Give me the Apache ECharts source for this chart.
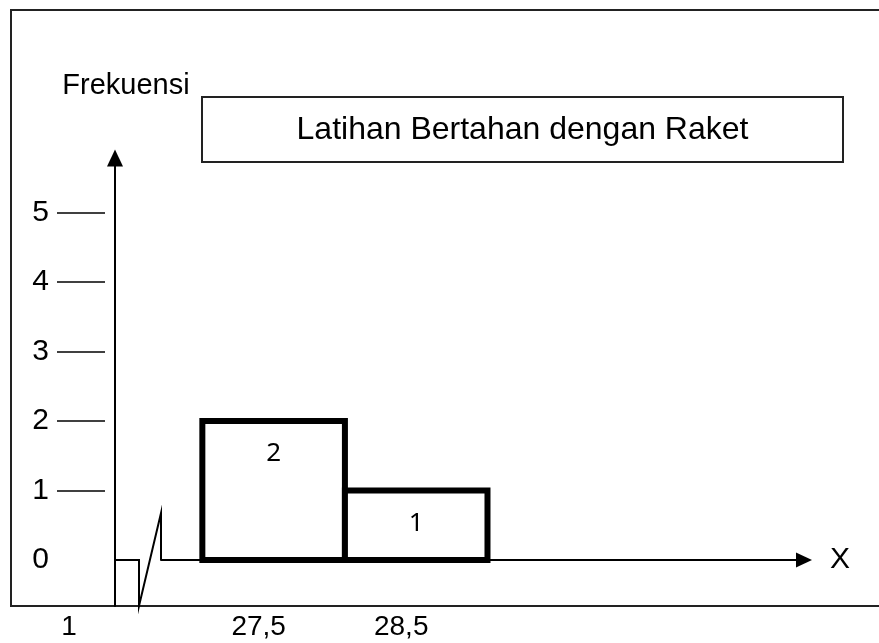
<!DOCTYPE html>
<html><head><meta charset="utf-8">
<script src="https://cdn.jsdelivr.net/npm/echarts@6/dist/echarts.min.js"></script>
<style>html,body{margin:0;padding:0;background:#fff}#c{width:879px;height:643px}</style>
</head><body><div id="c"></div>
<script>
// ---- data ----
const chartTitle = 'Latihan Bertahan dengan Raket';
const yName = 'Frekuensi';
const xName = 'X';
const classMarks = [27.5, 28.5];
const frequencies = [2, 1];
const classWidth = 1;
const xTickValues = [27.5, 28.5];
const xTickLabels = ['27,5', '28,5'];
const yTickValues = [0, 1, 2, 3, 4, 5];
const yTickLabels = ['0', '1', '2', '3', '4', '5'];
const yTickLineValues = [1, 2, 3, 4, 5];
const extraXLabel = '1';

// ---- layout ----
const FONT = '"Liberation Sans", Arial, sans-serif';
const X_MIN = 26.71, X_MAX = 31.22, Y_MIN = -0.662, Y_MAX = 5.784;
const chart = echarts.init(document.getElementById('c'), null, {renderer: 'canvas'});
const barData = classMarks.map((m, i) => [m, frequencies[i]]);

chart.setOption({
  animation: false,
  backgroundColor: '#fff',
  grid: {left: 161, right: 75, top: 158, bottom: 37, containLabel: false, outerBoundsMode: 'none'},
  xAxis: {
    type: 'value', min: X_MIN, max: X_MAX,
    name: xName, nameLocation: 'end', nameGap: 26,
    nameTextStyle: {fontFamily: FONT, fontSize: 30, color: '#000', verticalAlign: 'middle', padding: [0, 0, 12, 0]},
    axisLine: {show: true, onZero: true, onZeroAxisIndex: 0, symbol: ['none', 'triangle'], symbolSize: [15, 16],
      lineStyle: {color: '#000', width: 2}},
    axisTick: {show: false},
    splitLine: {show: false},
    axisLabel: {show: false}
  },
  yAxis: [{
    type: 'value', min: Y_MIN, max: Y_MAX, position: 'left', offset: 46,
    name: yName, nameLocation: 'end', nameGap: 72,
    nameTextStyle: {fontFamily: FONT, fontSize: 29, color: '#000', verticalAlign: 'middle', padding: [0, 0, 0, 22]},
    axisLine: {show: true, onZero: false, symbol: ['none', 'triangle'], symbolSize: [16, 17],
      lineStyle: {color: '#000', width: 2}},
    axisTick: {show: false}, axisLabel: {show: false}, splitLine: {show: false}
  }, {
    type: 'value', min: Y_MIN, max: Y_MAX, position: 'left', offset: 56,
    axisLine: {show: false, onZero: false},
    axisTick: {show: true, customValues: yTickLineValues, length: 48, lineStyle: {color: '#000', width: 1.6}},
    axisLabel: {show: true, customValues: yTickValues, margin: 56, fontFamily: FONT, fontSize: 30, color: '#000',
      formatter: v => { const i = yTickValues.indexOf(v); return i >= 0 ? yTickLabels[i] : ''; }},
    splitLine: {show: false}
  }],
  series: [{
    type: 'custom',
    data: barData,
    renderItem: function (params, api) {
      const x = api.value(0), y = api.value(1);
      const pTL = api.coord([x - classWidth / 2, y]);
      const pBR = api.coord([x + classWidth / 2, 0]);
      return {
        type: 'group',
        children: [{
          type: 'rect',
          shape: {x: pTL[0], y: pTL[1], width: pBR[0] - pTL[0], height: pBR[1] - pTL[1]},
          style: {fill: '#fff', stroke: '#000', lineWidth: 6}
        }, {
          type: 'text',
          style: {text: String(y), x: (pTL[0] + pBR[0]) / 2, y: pTL[1] + 33,
            align: 'center', verticalAlign: 'middle',
            font: '26px "Noto Sans", "Open Sans", sans-serif', fill: '#000'}
        }]
      };
    }
  }, {
    // x tick labels placed through the x scale
    type: 'custom',
    data: xTickValues.map((v, i) => [v, 0, i]),
    clip: false,
    renderItem: function (params, api) {
      const p = api.coord([api.value(0), 0]);
      return {
        type: 'text',
        style: {text: xTickLabels[api.value(2)], x: p[0] - 15, y: p[1] + 67,
          align: 'center', verticalAlign: 'middle', font: '28px ' + FONT, fill: '#000'}
      };
    }
  }]
});

// decorations computed from the grid
const origin = chart.convertToPixel({gridIndex: 0}, [X_MIN, 0]);
const gx = origin[0], gy0 = origin[1];
const yAxisX = gx - 46;
const gridBottom = 643 - 37;
chart.setOption({
  graphic: [
    {type: 'rect', shape: {x: 11, y: 10, width: 900, height: gridBottom - 10},
      style: {fill: null, stroke: '#222', lineWidth: 2}, silent: true, z: 0},
    {type: 'rect', shape: {x: 202, y: 97, width: 641, height: 65},
      style: {fill: '#fff', stroke: '#222', lineWidth: 2}, z: 5},
    {type: 'text', x: 522.5, y: 130, style: {text: chartTitle, font: '32px ' + FONT, fill: '#000',
      align: 'center', verticalAlign: 'middle'}, z: 6},
    {type: 'polyline', shape: {points: [[yAxisX, gy0], [yAxisX + 24, gy0], [yAxisX + 24, gridBottom],
      [gx, gy0 - 47], [gx, gy0]]}, style: {fill: null, stroke: '#000', lineWidth: 2}, z: 5},
    {type: 'text', x: 69, y: 627, style: {text: extraXLabel, font: '28px ' + FONT, fill: '#000',
      align: 'center', verticalAlign: 'middle'}, z: 6}
  ]
});
</script></body></html>
